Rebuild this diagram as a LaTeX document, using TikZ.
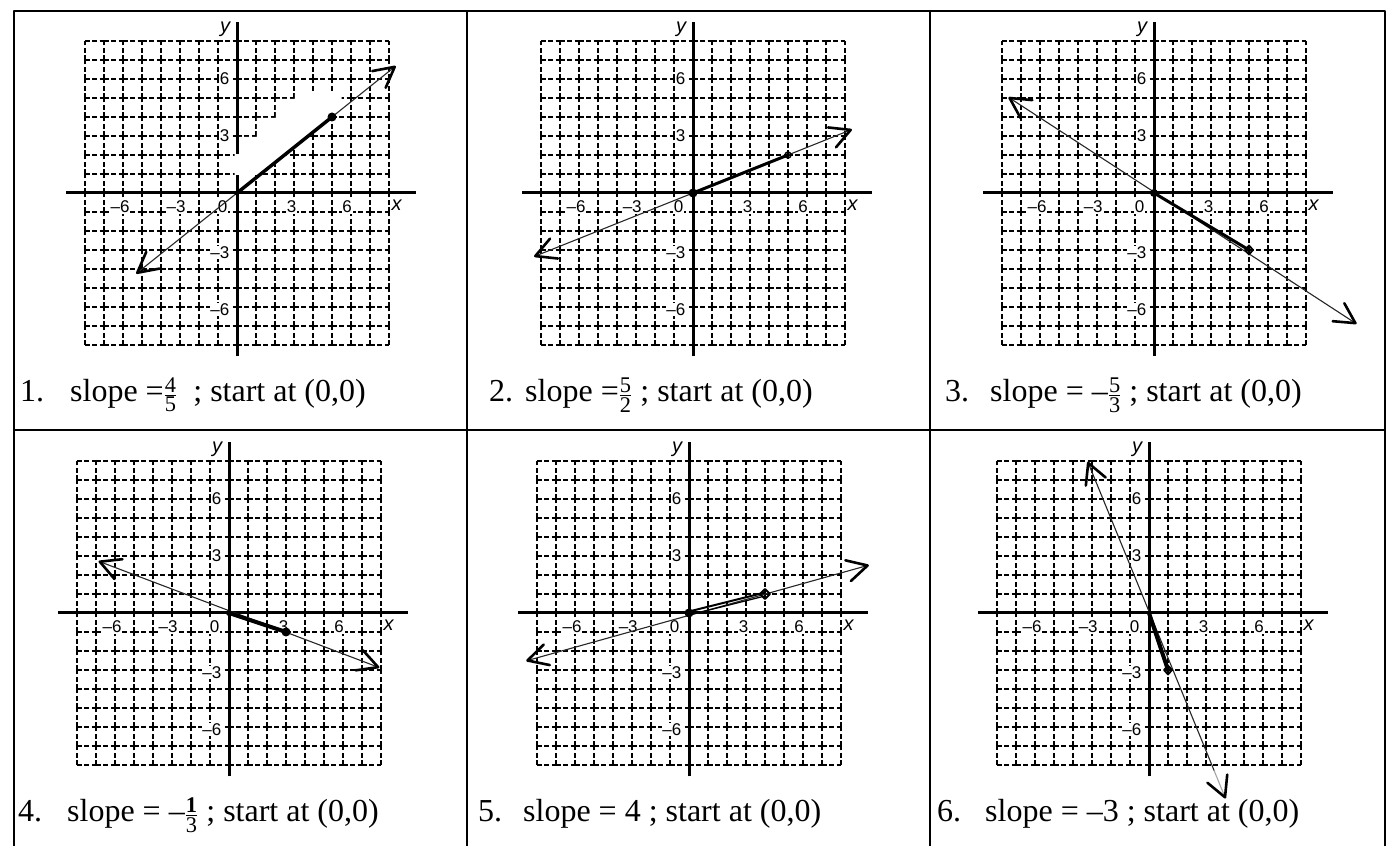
\documentclass[tikz,border=0pt]{standalone}
\usepackage{amsmath}
\usepackage{fontspec}
\setmainfont{Liberation Serif}
\newfontfamily\tickfont{Liberation Sans}
\newcommand{\fr}[2]{$\frac{\text{#1}}{\text{#2}}$}

\begin{document}
\begin{tikzpicture}[x=1pt, y=1pt, line join=round, line cap=round,
    gridline/.style={line width=1.1pt, line cap=butt, dash pattern=on 4.5pt off 2.75pt},
    axisline/.style={line width=3pt, line cap=butt},
    ruler/.style={line width=1.1pt, black!85},
    seg/.style={line width=3.5pt},
    hand/.style={line width=2.6pt},
    ticklab/.style={font=\tickfont\fontsize{17}{17}\selectfont, fill=white, inner sep=0.6pt},
    axlab/.style={font=\tickfont\itshape\fontsize{20}{20}\selectfont, inner sep=0pt},
    caption/.style={anchor=base west, inner sep=0pt, font=\fontsize{32}{36}\selectfont}]
    \useasboundingbox (0,0) rectangle (1387,846);
    % Table frame
    \draw[line width=2pt, line cap=butt] (14,0) -- (14,835) -- (1385,835) -- (1385,0);
    \draw[line width=2pt, line cap=butt] (467,0) -- (467,835) (930,0) -- (930,835) (14,416) -- (1385,416);
    % Grids, axes and tick labels of the six panels
    \foreach \ox/\oy [count=\n] in {237/653, 693/653, 1154/653, 229/233, 689/233, 1149/233} {
        \begin{scope}[shift={(\ox,\oy)}, x=19pt, y=19pt]
            \draw[gridline] \foreach \i in {-8,...,7} {\foreach \j in {-8,...,8} {(\i,\j) -- ++(1,0) (\j,\i) -- ++(0,1)}};
            \foreach \p/\t [count=\k] in {-6.15/–6, -3.2/–3, -0.76/0, 2.87/3, 5.8/6}
            \node[ticklab] (tx\n-\k) at (\p,-0.74) {\t};
            \foreach \p/\t [count=\k] in {6/6, 3/3, -3.15/–3, -6.15/–6}
            \node[ticklab, anchor=east] (ty\n-\k) at (-0.36,\p) {\t};
            \draw[axisline] (-9,0) -- (9.4,0);
            \draw[axisline] (0,-8.6) -- (0,9);
            \node[axlab] (x\n) at (8.4,-0.63) {x};
            \node[axlab] (y\n) at (-0.63,8.6) {y};
        \end{scope}
    }
    % 1. slope 4/5
    \begin{scope}[shift={(237,653)}, x=19pt, y=19pt]
        \fill[white] (-0.12,0.95) -- (-0.12,2.05) -- (0.12,2.05) -- (0.12,2.95) -- (1.05,2.95) -- (1.05,3.95)
            -- (2.05,3.95) -- (2.05,4.95) -- (3.05,4.95) -- (3.05,5.3) -- (5.5,5.3) -- (5.5,4.3) -- (1.31,0.95) -- cycle;
        \coordinate (O1) at (0,0);
        \coordinate (P1) at (5,4);
        \coordinate (L1) at (-5.25,-4.2);
        \coordinate (R1) at (8.3,6.64);
        \draw[ruler] (L1) -- (R1);
        \draw[seg] (O1) -- (P1);
        \fill (P1) circle (4.5pt);
        \fill (O1) circle (2.5pt);
        \foreach \t/\a in {L1/218.7, R1/38.7}
        \draw[hand] (\t) ++(\a+152:1.2) -- (\t) -- ++(\a-152:1.2);
    \end{scope}
    % 2. slope 5/2
    \begin{scope}[shift={(693,653)}, x=19pt, y=19pt]
        \coordinate (O2) at (0,0);
        \coordinate (P2) at (5,2);
        \coordinate (L2) at (-8.3,-3.32);
        \coordinate (R2) at (8.3,3.32);
        \draw[ruler] (L2) -- (R2);
        \draw[seg, line width=3pt] (O2) -- (P2);
        \fill (O2) circle (4.5pt);
        \draw[line width=1.5pt] (P2) circle (3pt);
        \foreach \t/\a in {L2/201.8, R2/21.8}
        \draw[hand] (\t) ++(\a+152:1.2) -- (\t) -- ++(\a-152:1.2);
    \end{scope}
    % 3. slope -5/3
    \begin{scope}[shift={(1154,653)}, x=19pt, y=19pt]
        \coordinate (O3) at (0,0);
        \coordinate (P3) at (5,-3);
        \coordinate (L3) at (-7.6,5.0);
        \coordinate (R3) at (10.6,-6.85);
        \draw[ruler] (L3) -- (R3);
        \draw[seg, line width=3pt] (O3) -- (P3);
        \fill (O3) circle (4pt);
        \draw[line width=1.8pt] (P3) +(0,4.5pt) -- +(4pt,0) -- +(0,-4.5pt) -- +(-4pt,0) -- cycle;
        \foreach \t/\a in {L3/146.7, R3/-32.9}
        \draw[hand] (\t) ++(\a+152:1.2) -- (\t) -- ++(\a-152:1.2);
    \end{scope}
    % 4. slope -1/3
    \begin{scope}[shift={(229,233)}, x=19pt, y=19pt]
        \coordinate (O4) at (0,0);
        \coordinate (P4) at (3,-1);
        \coordinate (L4) at (-6.8,2.7);
        \coordinate (R4) at (7.85,-2.85);
        \draw[ruler] (L4) -- (R4);
        \draw[seg, line width=4pt] (O4) -- (P4);
        \fill (O4) circle (3pt);
        \fill (P4) circle (4.5pt);
        \foreach \t/\a in {L4/158.3, R4/-19.95}
        \draw[hand] (\t) ++(\a+152:1.2) -- (\t) -- ++(\a-152:1.2);
    \end{scope}
    % 5. slope 4
    \begin{scope}[shift={(689,233)}, x=19pt, y=19pt]
        \coordinate (O5) at (0,0);
        \coordinate (P5) at (4,1);
        \coordinate (L5) at (-8.5,-2.5);
        \coordinate (R5) at (9.4,2.5);
        \draw[ruler] (L5) -- (R5);
        \draw[line width=2pt] ([yshift=1.5pt]O5) -- ([yshift=1.5pt]P5);
        \draw[line width=1.3pt] ([yshift=-2pt]O5) -- ([yshift=-2pt]P5);
        \fill (O5) circle (4.5pt);
        \draw[line width=1.8pt] (P5) +(0,5pt) -- +(5pt,0) -- +(0,-5pt) -- +(-5pt,0) -- cycle;
        \foreach \t/\a in {L5/196.4, R5/14.9}
        \draw[hand] (\t) ++(\a+152:1.2) -- (\t) -- ++(\a-152:1.2);
    \end{scope}
    % 6. slope -3
    \begin{scope}[shift={(1149,233)}, x=19pt, y=19pt]
        \coordinate (O6) at (0,0);
        \coordinate (P6) at (1,-3);
        \coordinate (L6) at (-3.2,7.9);
        \coordinate (M6) at (3.43,-8.3);
        \coordinate (R6) at (4.0,-9.7);
        \draw[ruler] (L6) -- (M6);
        \draw[ruler, black!35] (M6) -- (R6);
        \draw[seg, line width=4pt] (O6) -- (P6);
        \draw[line width=1.8pt] (P6) +(0,4.5pt) -- +(4pt,0) -- +(0,-4.5pt) -- +(-4pt,0) -- cycle;
        \foreach \t/\a in {L6/112.05, R6/-67.6}
        \draw[hand] (\t) ++(\a+152:1.2) -- (\t) -- ++(\a-152:1.2);
    \end{scope}
    % Captions
    \node[caption] (cap1) at (20,444) {\makebox[50pt][l]{1.}slope =\fr{4}{5}\ \ ; start at (0,0)};
    \node[caption] (cap2) at (489,444) {\makebox[36pt][l]{2.}slope =\fr{5}{2} ; start at (0,0)};
    \node[caption] (cap3) at (945,444) {\makebox[45pt][l]{3.}slope = –\fr{5}{3} ; start at (0,0)};
    \node[caption] (cap4) at (18,24) {\makebox[49pt][l]{4.}slope = –\fr{\textbf{1}}{3} ; start at (0,0)};
    \node[caption] (cap5) at (478,24) {\makebox[45pt][l]{5.}slope = 4 ; start at (0,0)};
    \node[caption] (cap6) at (937,24) {\makebox[48pt][l]{6.}slope = –3 ; start at (0,0)};
\end{tikzpicture}
\end{document}
